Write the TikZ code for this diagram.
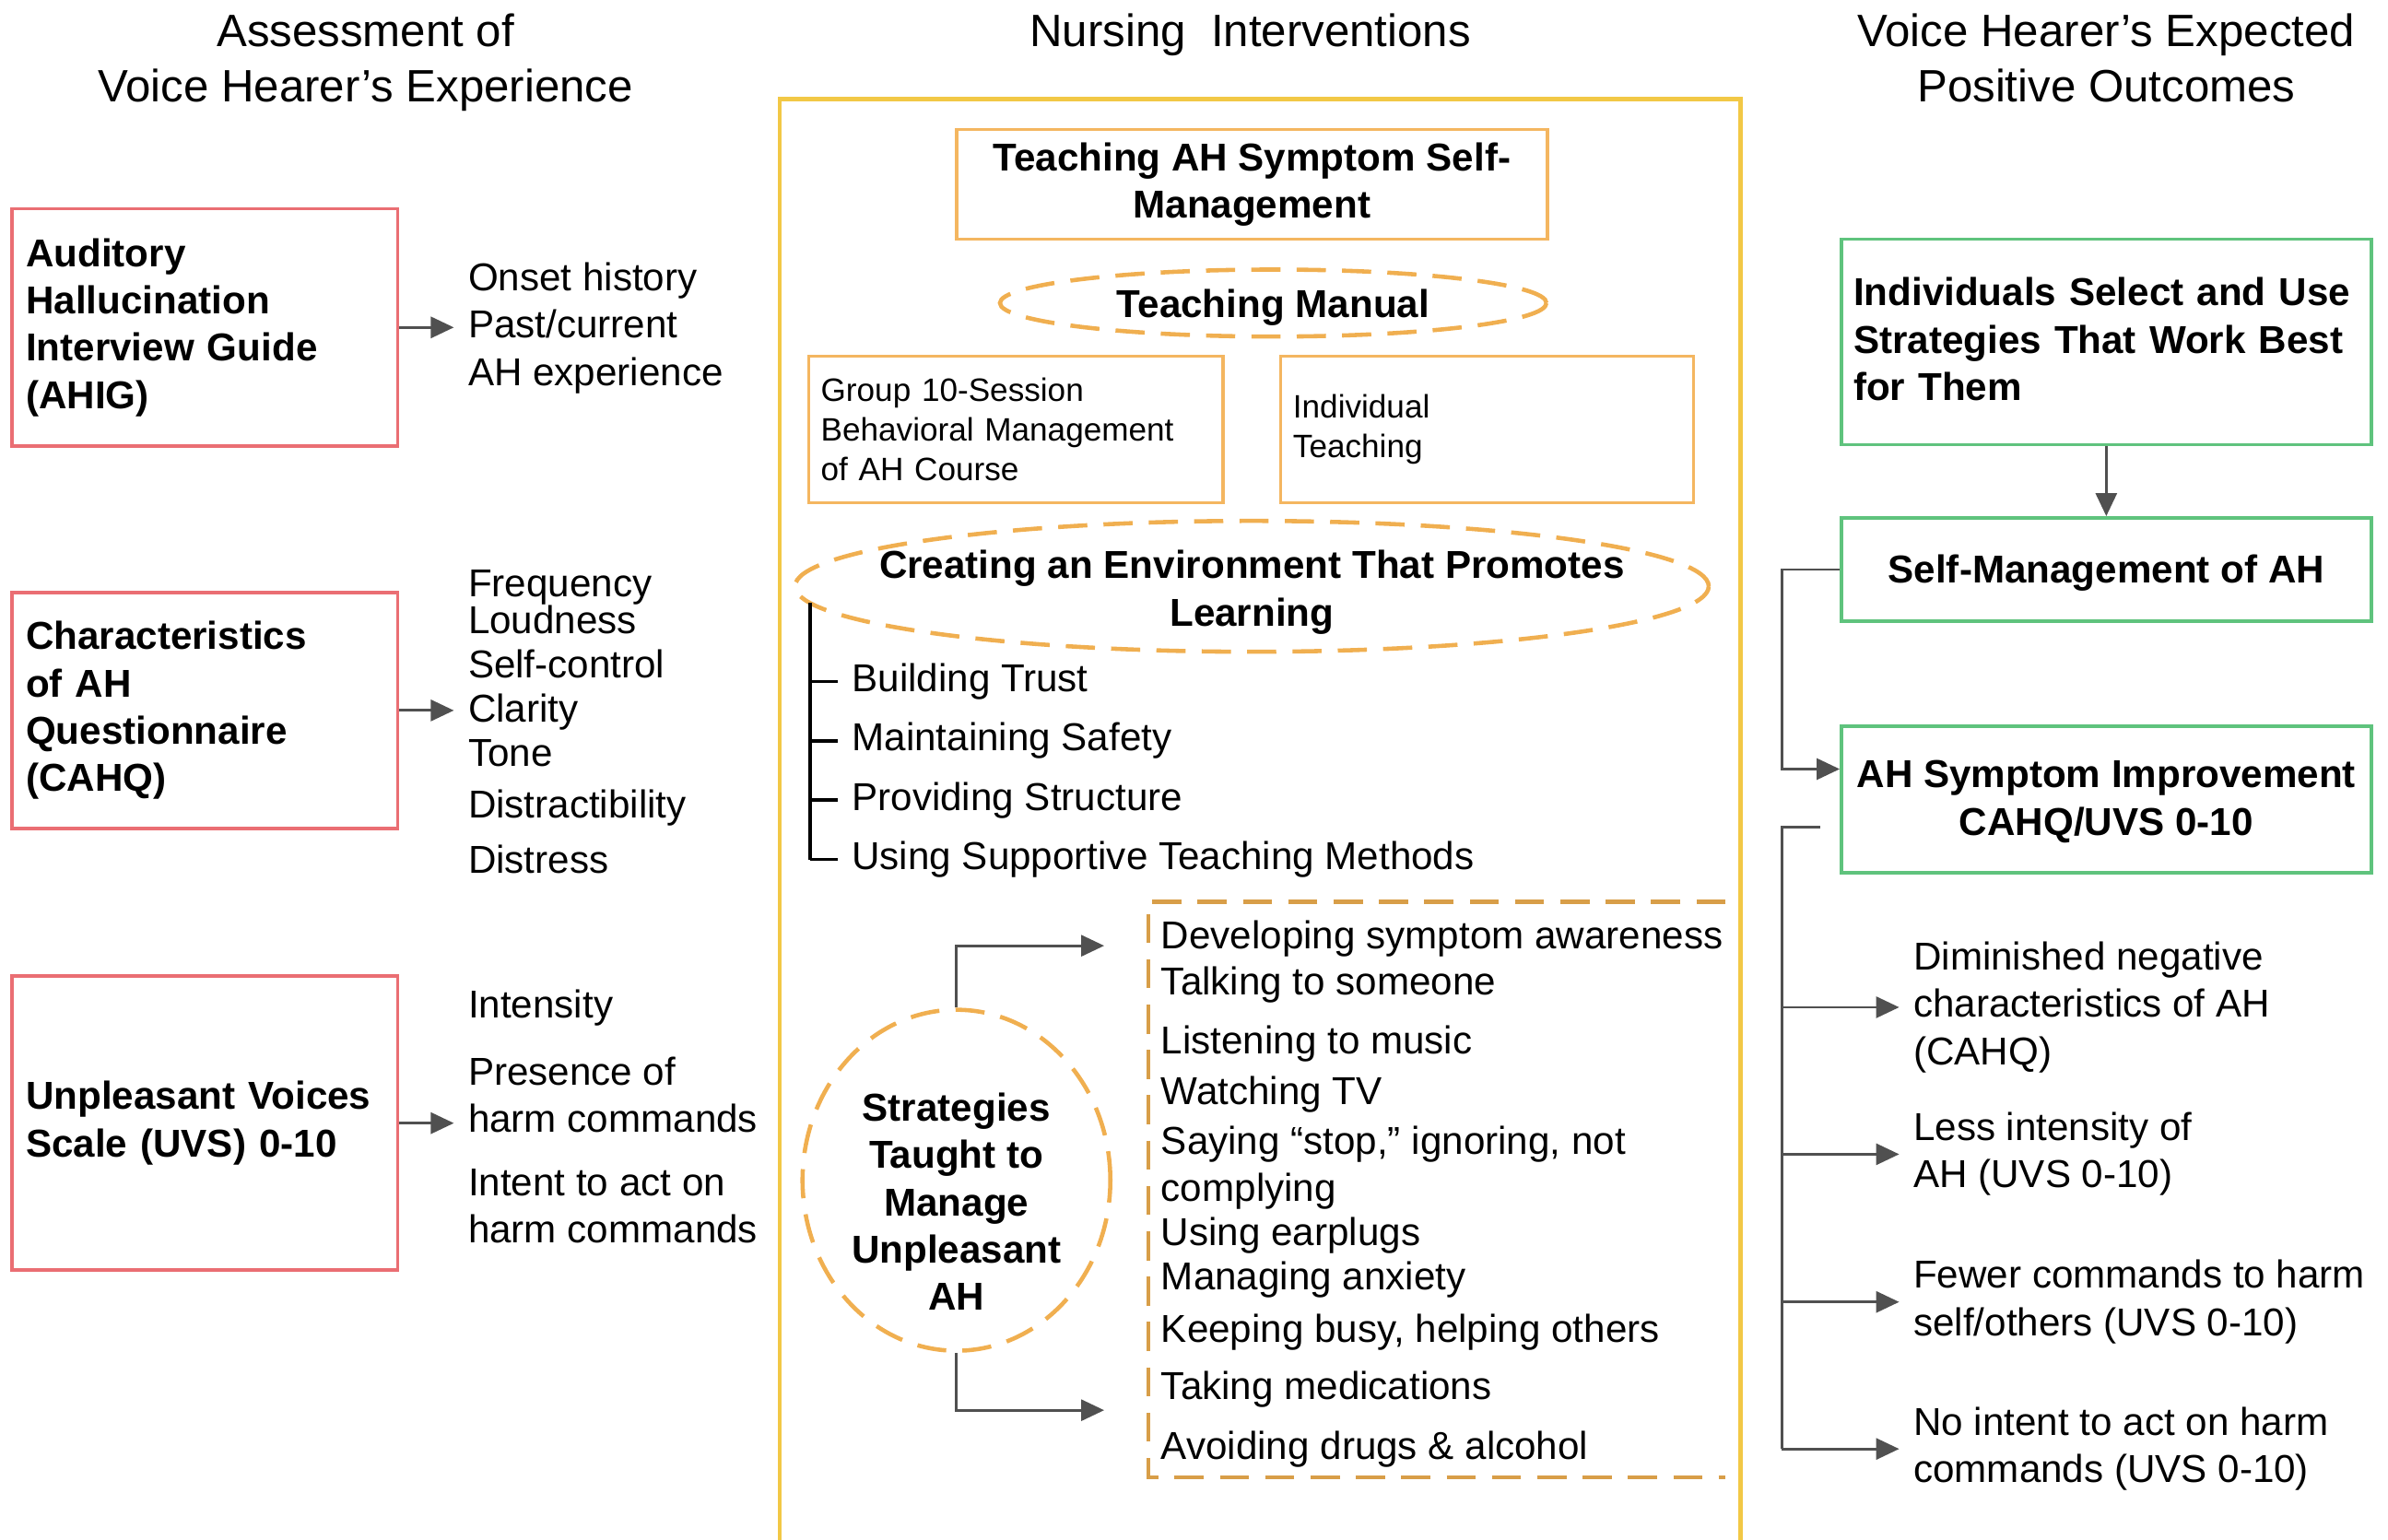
\documentclass[tikz,border=0pt]{standalone}
\usepackage{fontspec}
\setmainfont{Liberation Sans}
\usetikzlibrary{arrows.meta,shapes.geometric}

\definecolor{redline}{RGB}{234,110,115}
\definecolor{orgline}{RGB}{244,182,96}
\definecolor{goldline}{RGB}{242,200,70}
\definecolor{dashorg}{RGB}{240,175,80}
\definecolor{grnline}{RGB}{95,195,125}
\definecolor{arrgray}{RGB}{80,80,80}

\begin{document}
\begin{tikzpicture}[x=0.016524cm,y=-0.016524cm]
  \tikzset{ hd/.style={align=center,font=\fontsize{14}{16.9}\selectfont},
    rbox/.style={draw=redline,line width=1pt,text width=3.883cm,inner xsep=0.149cm,align=left,font=\bfseries\fontsize{12}{14.6}\selectfont},
    obox/.style={draw=orgline,line width=1pt,align=center,font=\bfseries\fontsize{12}{14.6}\selectfont},
    sbox/.style={draw=orgline,line width=1pt,minimum height=1.586cm,inner xsep=0.132cm,align=left,font=\fontsize{10}{12.2}\selectfont},
    gbox/.style={draw=grnline,line width=1pt,align=center,font=\bfseries\fontsize{12}{14.6}\selectfont},
    oval/.style={ellipse,draw=dashorg,line width=1.3pt,dash pattern=on 9pt off 5pt,inner sep=0pt,align=center,font=\bfseries\fontsize{12}{14.6}\selectfont},
    bx/.style={align=center,inner sep=0pt,font=\bfseries\fontsize{12}{14.6}\selectfont},
    itm/.style={anchor=west,align=left,inner xsep=0.149cm,inner ysep=0pt,yshift=-0.04cm,font=\fontsize{12}{14.6}\selectfont},
    ln/.style={itm,text height=8.7pt,text depth=2.4pt},
    arr/.style={draw=arrgray,line width=0.8pt,-{Triangle[length=0.25cm,width=0.23cm]}},
    conn/.style={draw=arrgray,line width=0.8pt},
  }
  \useasboundingbox (0,0) rectangle (1568,1011);

  % column headings
  \node[hd] (h1) at (240,41) {Assessment of\\Voice Hearer’s Experience};
  \node[hd] (h2) at (821,23) {Nursing\ \ Interventions};
  \node[hd] (h3) at (1383,38) {Voice Hearer’s Expected\\Positive Outcomes};

  % assessment tools
  \node[rbox,minimum height=2.578cm] (ahig) at (134.5,215) {Auditory\\Hallucination\\Interview Guide\\(AHIG)};
  \node[rbox,minimum height=2.561cm] (cahq) at (134.5,466.5) {Characteristics\\of AH\\Questionnaire\\(CAHQ)};
  \node[rbox,minimum height=3.189cm] (uvs) at (134.5,737.5) {Unpleasant Voices\\Scale (UVS) 0-10};

  \node[itm] (ah1) at (298,213) {Onset history\\Past/current\\AH experience};
  \foreach \t/\y [count=\i] in {Frequency/383,Loudness/407,Self-control/436,Clarity/465,Tone/494,Distractibility/528,Distress/564}
    \node[ln] (ch\i) at (298,\y) {\t};
  \node[ln] (uv1) at (298,659) {Intensity};
  \node[itm] (uv2) at (298,716.5) {Presence of\\harm commands};
  \node[itm] (uv3) at (298,789.5) {Intent to act on\\harm commands};

  \draw[arr] (ahig.east) -- (ahig.east -| ah1.west);
  \draw[arr] (cahq.east) -- (cahq.east -| ch4.west);
  \draw[arr] (uvs.east) -- (uvs.east -| uv2.west);

  % interventions
  \draw[goldline,line width=1.3pt] (512,1011) -- (512,65) -- (1143,65) -- (1143,1011);
  \node[obox,minimum width=6.411cm,minimum height=1.19cm] (tah) at (822,121) {Teaching AH Symptom Self-\\Management};
  \node[oval,minimum width=5.93cm,minimum height=0.727cm,text height=11.4pt,text depth=2.5pt] (man) at (836,199) {Teaching Manual};
  \node[sbox,text width=4.231cm] (grp) at (667,282) {Group 10-Session\\Behavioral Management\\of AH Course};
  \node[sbox,text width=4.214cm] (ind) at (976.5,282) {Individual\\Teaching};

  \node[bx] (env) at (822,389) {Creating an Environment That Promotes\\Learning};
  \draw[dashorg,line width=1.3pt,dash pattern=on 9pt off 5pt] (822,385) ellipse [x radius=4.957cm, y radius=0.71cm];
  \coordinate (et) at (532,396);
  \foreach \t/\y [count=\i] in {Building Trust/445,Maintaining Safety/484,Providing Structure/523,Using Supportive Teaching Methods/562} {
    \node[ln] (e\i) at (550,\y) {\t};
    \draw[line width=1pt] (et |- e\i.west) -- (e\i.west);
  }
  \draw[line width=1pt] (et) -- (et |- e4.west);

  \node[oval,minimum width=3.34cm,minimum height=3.70cm] (str) at (628,775) {};
  \node[bx] (strt) at (628,789) {Strategies\\Taught to\\Manage\\Unpleasant\\AH};
  \coordinate (s1) at (725,621);
  \coordinate (s2) at (725,926);
  \draw[arr] (str.north) |- (s1);
  \draw[arr] (str.south) |- (s2);

  \draw[dashorg!90!black,line width=1.3pt,dash pattern=on 9pt off 5pt] (1133,592) -- (754,592) -- (754,970) -- (1133,970);
  \foreach \t/\y [count=\i] in {Developing symptom awareness/614,Talking to someone/644,Listening to music/683,Watching TV/716,{Saying “stop,” ignoring, not}/749,complying/780,Using earplugs/809,Managing anxiety/838,{Keeping busy, helping others}/872,Taking medications/910,Avoiding drugs \& alcohol/949}
    \node[ln] (k\i) at (753,\y) {\t};

  % outcomes
  \node[gbox,text width=5.486cm,inner xsep=0.132cm,align=left,minimum height=2.231cm] (sel) at (1383,224.5) {Individuals Select and Use\\Strategies That Work Best\\for Them\vspace{0.06cm}};
  \node[gbox,minimum width=5.75cm,minimum height=1.124cm,text height=10.5pt,text depth=2.5pt] (smg) at (1383,374) {Self-Management of AH};
  \node[gbox,minimum width=5.75cm,minimum height=1.586cm] (imp) at (1383,525) {AH Symptom Improvement\\CAHQ/UVS 0-10\vspace{-0.05cm}};

  \draw[arr] (sel) -- (smg);
  \coordinate (j1) at (1170,505);
  \draw[arr] (smg.west) -| (j1) -- (j1 -| imp.west);

  \node[itm] (o1) at (1247,659) {Diminished negative\\characteristics of AH\\(CAHQ)};
  \node[itm] (o2) at (1247,755.5) {Less intensity of\\AH (UVS 0-10)};
  \node[itm] (o3) at (1247,852.5) {Fewer commands to harm\\self/others (UVS 0-10)};
  \node[itm] (o4) at (1247,949) {No intent to act on harm\\commands (UVS 0-10)};

  \coordinate (j2) at (1195,543);
  \coordinate (bus) at (1170,543);
  \draw[conn] (j2) -- (bus) -- (bus |- o4.west);
  \foreach \o in {o1,o2,o3,o4}
    \draw[arr] (bus |- \o.west) -- (\o.west);
\end{tikzpicture}
\end{document}
